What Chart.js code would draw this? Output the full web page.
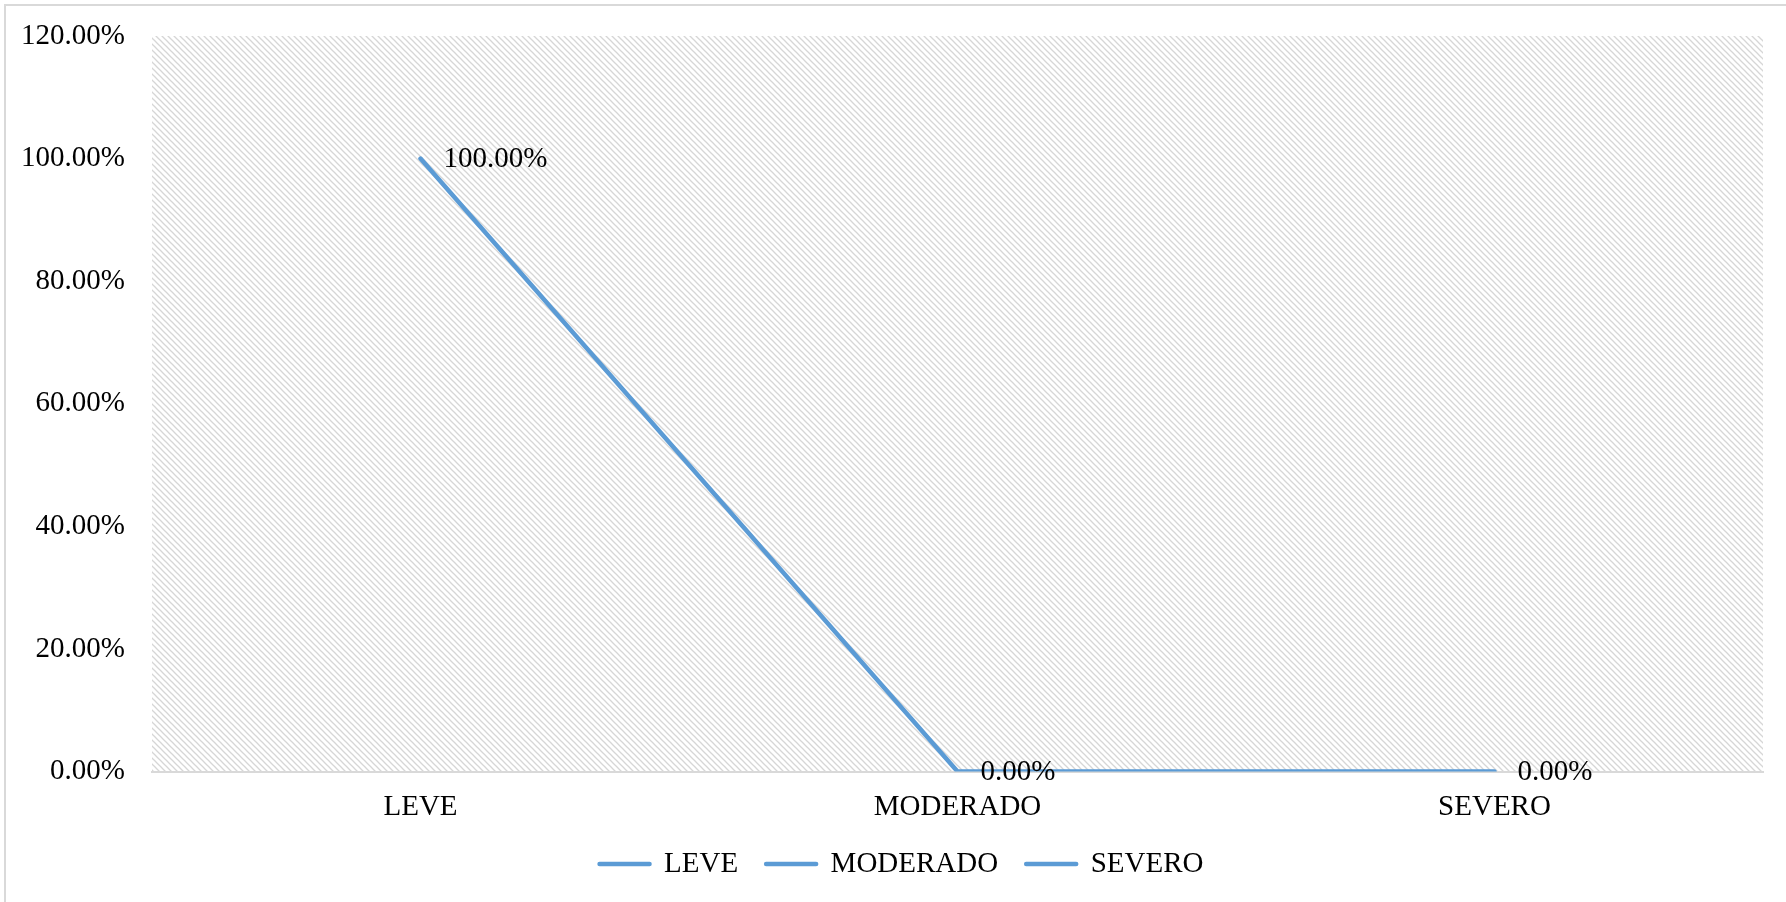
<!DOCTYPE html>
<html>
<head>
<meta charset="utf-8">
<script src="https://cdn.jsdelivr.net/npm/chart.js@4/dist/chart.umd.min.js"></script>
<style>
  html, body { margin: 0; padding: 0; background: #fff; }
  #wrap { width: 1786px; height: 902px; }
</style>
</head>
<body>
<div id="wrap"><canvas id="myChart"></canvas></div>
<script>
// datos del gráfico
const categorias = ["LEVE", "MODERADO", "SEVERO"];
const porcentajes = [1.0, 0.0, 0.0];
const ticksY = [0, 0.2, 0.4, 0.6, 0.8, 1.0, 1.2];

const azul = "#5b9bd5";
const fuente = "'Liberation Serif', 'Times New Roman', serif";
const tam = 29;

// patrón de rayas diagonales para el fondo del área de trazado
function crearPatron() {
  const c = document.createElement("canvas");
  c.width = 6;
  c.height = 6;
  const g = c.getContext("2d");
  g.fillStyle = "#ffffff";
  g.fillRect(0, 0, 6, 6);
  g.strokeStyle = "#d6d6d6";
  g.lineWidth = 1.3;
  for (const off of [-6, 0, 6]) {
    g.beginPath();
    g.moveTo(off - 1, -1);
    g.lineTo(off + 7, 7);
    g.stroke();
  }
  return g.createPattern(c, "repeat");
}

const fondo = {
  id: "fondo",
  beforeDraw(chart) {
    const ctx = chart.ctx;
    const a = chart.chartArea;
    ctx.save();
    // borde exterior
    ctx.strokeStyle = "#d9d9d9";
    ctx.lineWidth = 2;
    ctx.strokeRect(5, 5, chart.width + 20, chart.height + 20);
    ctx.fillStyle = crearPatron();
    ctx.fillRect(a.left, a.top, a.right - a.left, a.bottom - a.top);
    ctx.restore();
  },
};

// etiquetas de datos a la derecha de cada punto
const etiquetas = {
  id: "etiquetas",
  afterDatasetsDraw(chart) {
    const ctx = chart.ctx;
    const meta = chart.getDatasetMeta(0);
    ctx.save();
    ctx.font = tam + "px " + fuente;
    ctx.fillStyle = "#000";
    ctx.textAlign = "left";
    ctx.textBaseline = "middle";
    meta.data.forEach((pt, i) => {
      const txt = (porcentajes[i] * 100).toFixed(2) + "%";
      ctx.fillText(txt, pt.x + 23, pt.y + 1);
    });
    ctx.restore();
  },
};

new Chart(document.getElementById("myChart"), {
  type: "line",
  data: {
    labels: categorias,
    datasets: [
      {
        label: "Porcentaje",
        data: porcentajes,
        borderColor: azul,
        backgroundColor: azul,
        borderWidth: 4.5,
        borderCapStyle: "round",
        borderJoinStyle: "round",
        pointRadius: 0,
        tension: 0,
      },
    ],
  },
  options: {
    responsive: true,
    maintainAspectRatio: false,
    animation: false,
    layout: {
      padding: { left: 0, right: -17, top: 36, bottom: 13.5 },
    },
    plugins: {
      tooltip: { enabled: false },
      legend: {
        position: "bottom",
        labels: {
          font: { family: fuente, size: tam },
          color: "#000",
          usePointStyle: true,
          pointStyle: "line",
          pointStyleWidth: 50,
          padding: 28,
          generateLabels: () =>
            categorias.map((c) => ({
              text: c,
              strokeStyle: azul,
              fillStyle: azul,
              lineWidth: 4.5,
              lineCap: "round",
              pointStyle: "line",
              fontColor: "#000",
            })),
        },
      },
    },
    scales: {
      x: {
        offset: true,
        grid: { display: false, drawTicks: false },
        border: { display: true, color: "#d9d9d9", width: 2 },
        afterFit: (scale) => {
          scale.height = 50;
        },
        ticks: {
          font: { family: fuente, size: tam, lineHeight: 1 },
          color: "#000",
          padding: 21.5,
        },
      },
      y: {
        min: 0,
        max: 1.2,
        afterBuildTicks: (scale) => {
          scale.ticks = ticksY.map((v) => ({ value: v }));
        },
        afterFit: (scale) => {
          scale.width = 152;
          scale.paddingTop = 0;
          scale.paddingBottom = 0;
        },
        grid: { display: false, drawTicks: false },
        border: { display: false },
        ticks: {
          font: { family: fuente, size: tam },
          color: "#000",
          padding: 27,
          callback: (v) => (v * 100).toFixed(2) + "%",
        },
      },
      // eje derecho vacío, solo reserva el margen derecho
      margenDer: {
        position: "right",
        min: 0,
        max: 1.2,
        grid: { display: false, drawTicks: false },
        border: { display: false },
        ticks: { display: false },
        afterFit: (scale) => {
          scale.width = 40;
          scale.paddingTop = 0;
          scale.paddingBottom = 0;
        },
      },
    },
  },
  plugins: [fondo, etiquetas],
});
</script>
</body>
</html>
